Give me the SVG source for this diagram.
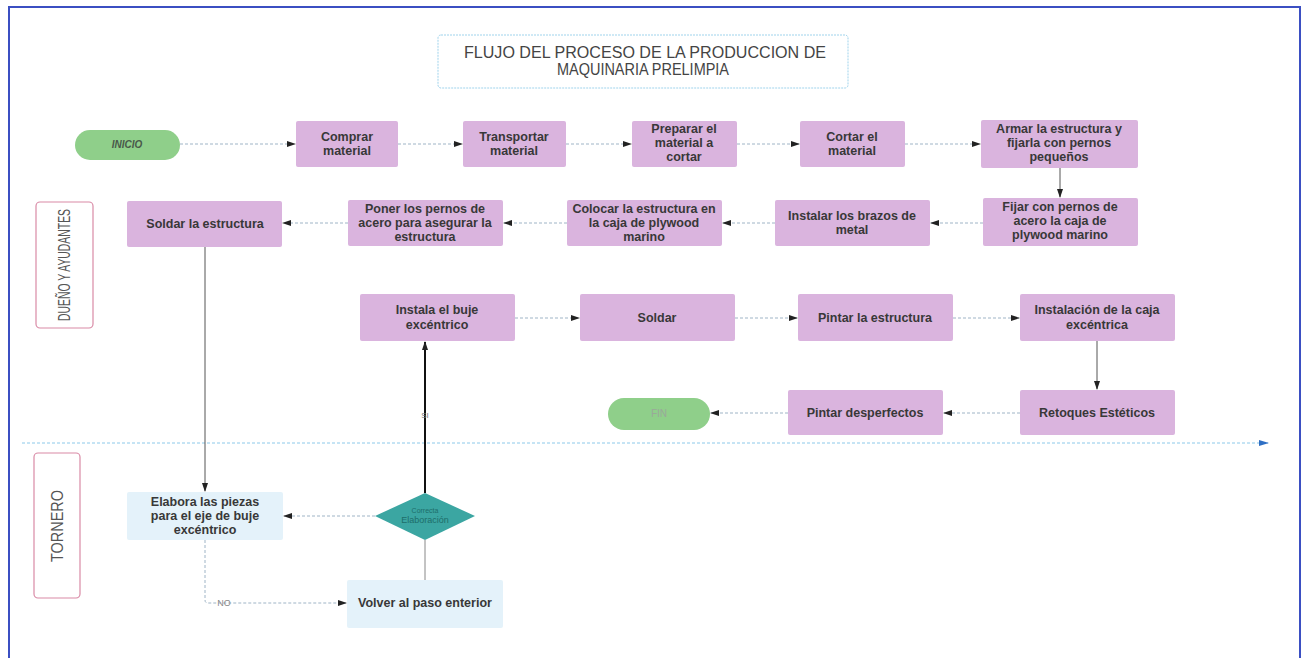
<svg xmlns="http://www.w3.org/2000/svg" width="1305" height="658" viewBox="0 0 1305 658">
  <style>
    .step { fill: #dab4de; }
    .work { fill: #e4f2fa; }
    .lbl { font-family: "Liberation Sans", Arial, sans-serif; font-size: 12.5px; font-weight: bold; fill: #383838; text-anchor: middle; }
    .lane { fill: #ffffff; stroke: #d98aa6; stroke-width: 1.2; }
    .lanetxt { font-family: "Liberation Sans", Arial, sans-serif; font-size: 17px; fill: #555; text-anchor: middle; }
    .ttl { font-family: "Liberation Sans", Arial, sans-serif; font-size: 16px; fill: #444; text-anchor: middle; }
    .flow { stroke: #9fb4c6; stroke-width: 1; stroke-dasharray: 3 2; fill: none; marker-end: url(#head); }
    .solid { stroke: #555; stroke-width: 1; fill: none; marker-end: url(#head); }
    .thick { stroke: #111; stroke-width: 2; fill: none; marker-end: url(#head); }
  </style>
  <defs>
    <marker id="head" markerWidth="9" markerHeight="6" refX="8" refY="3" orient="auto" markerUnits="userSpaceOnUse">
      <path d="M0,0 L9,3 L0,6 Z" fill="#222"/>
    </marker>
    <marker id="bluehead" markerWidth="10" markerHeight="6" refX="9" refY="3" orient="auto" markerUnits="userSpaceOnUse">
      <path d="M0,0 L10,3 L0,6 Z" fill="#2f6fc4"/>
    </marker>
  </defs>

  <rect x="0" y="0" width="1305" height="658" fill="#ffffff"/>
  <!-- page frame -->
  <rect x="9" y="7" width="1291" height="656" fill="none" stroke="#3b4fc2" stroke-width="2"/>

  <!-- title -->
  <g id="title">
    <rect x="438" y="35" width="410" height="53" rx="3" fill="#ffffff" stroke="#9fd3ec" stroke-width="1" stroke-dasharray="2 1"/>
    <text class="ttl" x="645" y="58" textLength="362" lengthAdjust="spacingAndGlyphs">FLUJO DEL PROCESO DE LA PRODUCCION DE</text>
    <text class="ttl" x="643" y="75" textLength="172" lengthAdjust="spacingAndGlyphs">MAQUINARIA PRELIMPIA</text>
  </g>

  <!-- swimlanes -->
  <g id="lane-duenio">
    <rect class="lane" x="36" y="202" width="57" height="126" rx="4"/>
    <text class="lanetxt" transform="translate(70,265) rotate(-90)" textLength="112" lengthAdjust="spacingAndGlyphs">DUEÑO Y AYUDANTES</text>
  </g>
  <g id="lane-tornero">
    <rect class="lane" x="34" y="453" width="46" height="145" rx="4"/>
    <text class="lanetxt" transform="translate(63,526) rotate(-90)" textLength="72" lengthAdjust="spacingAndGlyphs">TORNERO</text>
  </g>

  <!-- connectors -->
  <g id="connectors">
    <line x1="22" y1="443" x2="1268" y2="443" stroke="#8cc9ea" stroke-width="1" stroke-dasharray="3 2" marker-end="url(#bluehead)"/>
    <!-- row 1 -->
    <line class="flow" x1="180" y1="144" x2="295" y2="144"/>
    <line class="flow" x1="398" y1="144" x2="462" y2="144"/>
    <line class="flow" x1="566" y1="144" x2="631" y2="144"/>
    <line class="flow" x1="737" y1="144" x2="799" y2="144"/>
    <line class="flow" x1="905" y1="144" x2="980" y2="144"/>
    <line class="solid" x1="1060" y1="168" x2="1060" y2="197"/>
    <!-- row 2 -->
    <line class="flow" x1="983" y1="223" x2="931" y2="223"/>
    <line class="flow" x1="775" y1="223" x2="723" y2="223"/>
    <line class="flow" x1="567" y1="223" x2="504" y2="223"/>
    <line class="flow" x1="348" y1="223" x2="283" y2="223"/>
    <line class="solid" x1="205" y1="247" x2="205" y2="491"/>
    <!-- row 3 -->
    <line class="flow" x1="515" y1="318" x2="579" y2="318"/>
    <line class="flow" x1="735" y1="318" x2="797" y2="318"/>
    <line class="flow" x1="953" y1="318" x2="1019" y2="318"/>
    <line class="solid" x1="1097" y1="341" x2="1097" y2="389"/>
    <!-- row 4 -->
    <line class="flow" x1="1020" y1="413" x2="944" y2="413"/>
    <line class="flow" x1="788" y1="413" x2="711" y2="413"/>
    <!-- decision -->
    <line class="thick" x1="425" y1="493" x2="425" y2="342"/>
    <text x="425" y="418" font-family="Liberation Sans, sans-serif" font-size="8" fill="#777" text-anchor="middle">SI</text>
    <line class="flow" x1="375" y1="516" x2="284" y2="516"/>
    <line x1="425" y1="540" x2="425" y2="580" stroke="#888" stroke-width="1"/>
    <path class="flow" d="M205,540 L205,600 Q205,603 208,603 L346,603"/>
    <text x="224" y="606" font-family="Liberation Sans, sans-serif" font-size="9" fill="#888" text-anchor="middle">NO</text>
  </g>

  <!-- row 1 nodes -->
  <g id="inicio">
    <rect x="75" y="130" width="105" height="30" rx="15" fill="#8fcf8a"/>
    <text x="127" y="148" font-family="Liberation Sans, sans-serif" font-size="10" font-style="italic" font-weight="bold" fill="#4a5a4a" text-anchor="middle">INICIO</text>
  </g>
  <g id="comprar">
    <rect class="step" x="296" y="121" width="102" height="46" rx="2"/>
    <text class="lbl" x="347" y="141">Comprar</text>
    <text class="lbl" x="347" y="155">material</text>
  </g>
  <g id="transportar">
    <rect class="step" x="463" y="121" width="103" height="46" rx="2"/>
    <text class="lbl" x="514" y="141">Transportar</text>
    <text class="lbl" x="514" y="155">material</text>
  </g>
  <g id="preparar">
    <rect class="step" x="632" y="121" width="105" height="46" rx="2"/>
    <text class="lbl" x="684" y="133">Preparar el</text>
    <text class="lbl" x="684" y="147">material a</text>
    <text class="lbl" x="684" y="161">cortar</text>
  </g>
  <g id="cortar">
    <rect class="step" x="800" y="121" width="105" height="46" rx="2"/>
    <text class="lbl" x="852" y="141">Cortar el</text>
    <text class="lbl" x="852" y="155">material</text>
  </g>
  <g id="armar">
    <rect class="step" x="981" y="120" width="157" height="48" rx="2"/>
    <text class="lbl" x="1059" y="133">Armar la estructura y</text>
    <text class="lbl" x="1059" y="147">fijarla con pernos</text>
    <text class="lbl" x="1059" y="161">pequeños</text>
  </g>

  <!-- row 2 nodes -->
  <g id="fijar">
    <rect class="step" x="983" y="198" width="155" height="48" rx="2"/>
    <text class="lbl" x="1060" y="211">Fijar con pernos de</text>
    <text class="lbl" x="1060" y="225">acero la caja de</text>
    <text class="lbl" x="1060" y="239">plywood marino</text>
  </g>
  <g id="instalar-brazos">
    <rect class="step" x="775" y="200" width="155" height="46" rx="2"/>
    <text class="lbl" x="852" y="220">Instalar los brazos de</text>
    <text class="lbl" x="852" y="234">metal</text>
  </g>
  <g id="colocar">
    <rect class="step" x="567" y="200" width="155" height="46" rx="2"/>
    <text class="lbl" x="644" y="213">Colocar la estructura en</text>
    <text class="lbl" x="644" y="227">la caja de plywood</text>
    <text class="lbl" x="644" y="241">marino</text>
  </g>
  <g id="poner-pernos">
    <rect class="step" x="348" y="200" width="155" height="46" rx="2"/>
    <text class="lbl" x="425" y="213">Poner los pernos de</text>
    <text class="lbl" x="425" y="227">acero para asegurar la</text>
    <text class="lbl" x="425" y="241">estructura</text>
  </g>
  <g id="soldar-estructura">
    <rect class="step" x="127" y="201" width="155" height="46" rx="2"/>
    <text class="lbl" x="205" y="228">Soldar la estructura</text>
  </g>

  <!-- row 3 nodes -->
  <g id="instala-buje">
    <rect class="step" x="360" y="294" width="155" height="47" rx="2"/>
    <text class="lbl" x="437" y="314">Instala el buje</text>
    <text class="lbl" x="437" y="329">excéntrico</text>
  </g>
  <g id="soldar">
    <rect class="step" x="580" y="294" width="155" height="47" rx="2"/>
    <text class="lbl" x="657" y="322">Soldar</text>
  </g>
  <g id="pintar-estructura">
    <rect class="step" x="798" y="294" width="155" height="47" rx="2"/>
    <text class="lbl" x="875" y="322">Pintar la estructura</text>
  </g>
  <g id="instalacion-caja">
    <rect class="step" x="1020" y="294" width="155" height="47" rx="2"/>
    <text class="lbl" x="1097" y="314">Instalación de la caja</text>
    <text class="lbl" x="1097" y="329">excéntrica</text>
  </g>

  <!-- row 4 nodes -->
  <g id="retoques">
    <rect class="step" x="1020" y="390" width="155" height="45" rx="2"/>
    <text class="lbl" x="1097" y="417">Retoques Estéticos</text>
  </g>
  <g id="pintar-desperfectos">
    <rect class="step" x="788" y="390" width="155" height="45" rx="2"/>
    <text class="lbl" x="865" y="417">Pintar desperfectos</text>
  </g>
  <g id="fin">
    <rect x="608" y="398" width="102" height="32" rx="16" fill="#8fcf8a"/>
    <text x="659" y="417" font-family="Liberation Sans, sans-serif" font-size="10" fill="#9aa89a" text-anchor="middle">FIN</text>
  </g>

  <!-- tornero lane nodes -->
  <g id="elabora">
    <rect class="work" x="127" y="492" width="156" height="48" rx="2"/>
    <text class="lbl" x="205" y="506">Elabora las piezas</text>
    <text class="lbl" x="205" y="520">para el eje de buje</text>
    <text class="lbl" x="205" y="534">excéntrico</text>
  </g>
  <g id="decision">
    <polygon points="425,493 475,516 425,540 375,516" fill="#3ba6a2"/>
    <text x="425" y="513" font-family="Liberation Sans, sans-serif" font-size="7" fill="#1e6e6a" text-anchor="middle">Correcta</text>
    <text x="425" y="523" font-family="Liberation Sans, sans-serif" font-size="9" fill="#1e6e6a" text-anchor="middle">Elaboración</text>
  </g>
  <g id="volver">
    <rect class="work" x="347" y="580" width="156" height="48" rx="2"/>
    <text class="lbl" x="425" y="607">Volver al paso enterior</text>
  </g>
</svg>
